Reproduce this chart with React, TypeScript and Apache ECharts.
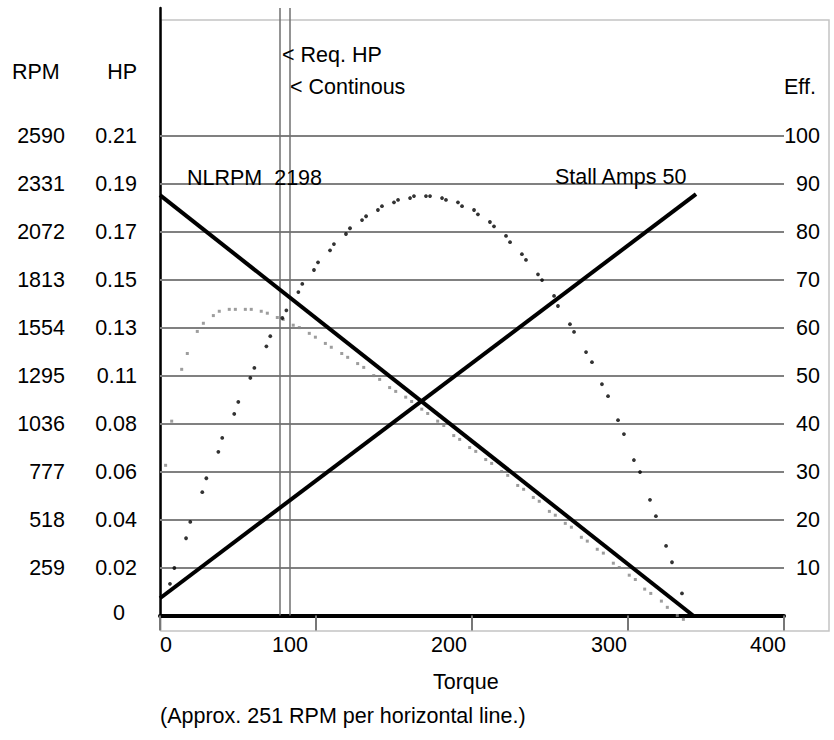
import React, { useEffect, useRef } from 'react';
import * as echarts from 'echarts';

// ---- data ----
const torqueTicks = [0, 100, 200, 300, 400];
const gridLevels = [10, 20, 30, 40, 50, 60, 70, 80, 90, 100];
const rpmLabels = ['259', '518', '777', '1036', '1295', '1554', '1813', '2072', '2331', '2590'];
const hpLabels = ['0.02', '0.04', '0.06', '0.08', '0.11', '0.13', '0.15', '0.17', '0.19', '0.21'];
const effLabels = ['10', '20', '30', '40', '50', '60', '70', '80', '90', '100'];

// vertical markers (torque): Req. HP, Continous
const markerTorque = [76.9, 83.3];

// straight lines (torque, scale units 0-100)
const rpmLine = [[0, 87.6], [341.7, 0]];
const ampsLine = [[0, 3.6], [343.6, 87.8]];

// efficiency curve (black dots)
const effTorque = [6.4, 9.2, 16.7, 19.4, 27.1, 29.7, 37.4, 39.9, 47.6, 50.2, 57.9, 60.5, 68.2, 70.7, 78.4, 81.0, 88.7, 91.2, 98.7, 101.3, 109.0, 111.5, 119.2, 121.8, 129.5, 132.1, 139.7, 142.3, 150.0, 152.6, 160.3, 162.8, 170.5, 173.1, 180.8, 183.3, 191.0, 193.6, 201.3, 203.8, 211.5, 214.1, 221.8, 224.4, 232.0, 234.6, 242.3, 244.9, 252.6, 255.1, 262.8, 265.4, 273.1, 276.9, 283.3, 287.2, 293.6, 297.4, 303.8, 307.7, 314.1, 317.9, 324.4, 328.2, 334.6];
const effValues = [6.6, 9.9, 16.1, 19.5, 25.7, 28.6, 34.1, 37.0, 42.0, 44.5, 49.5, 51.6, 56.1, 58.2, 62.0, 63.6, 67.4, 69.1, 72.0, 73.6, 76.1, 77.4, 79.5, 80.7, 82.4, 83.2, 84.5, 85.3, 86.1, 86.6, 87.0, 87.4, 87.4, 87.4, 87.0, 86.6, 86.1, 85.3, 84.5, 83.6, 82.0, 81.1, 79.1, 77.8, 75.3, 74.1, 71.1, 69.9, 66.6, 64.5, 60.7, 59.1, 54.9, 52.8, 48.2, 45.7, 40.7, 37.8, 32.4, 29.9, 24.1, 20.7, 14.5, 11.1, 4.6];

// horsepower curve (gray squares)
const hpTorque = [3.6, 7.5, 13.9, 17.5, 23.9, 27.8, 34.2, 38.0, 44.4, 48.3, 54.7, 58.5, 64.9, 68.8, 75.2, 79.0, 85.4, 89.3, 95.7, 99.6, 106.0, 109.8, 116.5, 120.3, 126.7, 130.6, 137.0, 140.8, 147.2, 151.1, 157.5, 161.3, 167.8, 171.6, 178.0, 181.9, 188.3, 192.1, 198.5, 202.4, 208.8, 212.6, 219.0, 222.9, 229.3, 233.1, 239.3, 243.1, 249.6, 253.4, 259.8, 263.7, 270.1, 273.9, 280.3, 284.2, 290.6, 294.4, 300.8, 304.7, 310.7, 314.6, 321.4, 325.2, 331.6, 335.5];
const hpValues = [31.3, 40.5, 51.3, 54.6, 59.2, 60.9, 62.5, 63.4, 63.8, 63.8, 63.8, 63.8, 63.4, 63.0, 62.1, 61.7, 60.5, 60.0, 58.8, 58.0, 56.7, 55.9, 54.6, 53.8, 52.5, 51.7, 50.0, 49.2, 47.5, 46.7, 45.5, 44.6, 43.0, 42.1, 40.5, 39.6, 37.5, 36.7, 35.0, 34.2, 32.5, 31.7, 30.0, 29.2, 27.1, 26.3, 24.6, 23.8, 21.7, 20.9, 19.2, 18.4, 16.3, 15.5, 13.8, 13.0, 10.9, 10.0, 8.4, 7.5, 5.5, 4.6, 3.0, 1.7, 0.0, -0.8];

const FONT = '"Liberation Sans", Arial, Helvetica, sans-serif';
const FS = 21.5;

function levelLabel(labels: string[], v: number) {
  const i = gridLevels.indexOf(Math.round(v * 1000) / 1000);
  return i >= 0 ? labels[i] : '';
}

export default function App() {
  const ref = useRef<HTMLDivElement>(null);

  useEffect(() => {
    const chart = echarts.init(ref.current!, null, { renderer: 'svg' });
    const textStyle = (text: string, x: number, y: number, align = 'left') => ({
      type: 'text',
      x,
      y,
      silent: true,
      z: 10,
      style: { text, fill: '#000', fontSize: FS, fontFamily: FONT, align, verticalAlign: 'middle' },
    });

    const option: any = {
      animation: false,
      backgroundColor: '#ffffff',
      textStyle: { fontFamily: FONT },
      grid: { left: 160, top: 8, width: 624, height: 607.5, outerBoundsMode: 'none', containLabel: false },
      xAxis: {
        type: 'value',
        min: torqueTicks[0],
        max: torqueTicks[torqueTicks.length - 1],
        interval: 100,
        axisLine: { show: true, lineStyle: { color: '#000', width: 4 } },
        axisTick: { show: true, length: 15, lineStyle: { color: '#777', width: 2 } },
        splitLine: { show: false },
        axisLabel: {
          margin: 18,
          color: '#000',
          fontSize: FS,
          fontFamily: FONT,
          formatter: (v: number) => `{t${v}|${v}}`,
          rich: {
            t0: { fontSize: FS, fontFamily: FONT, color: '#000', padding: [0, 0, 0, 12] },
            t100: { fontSize: FS, fontFamily: FONT, color: '#000', padding: [0, 52, 0, 0] },
            t200: { fontSize: FS, fontFamily: FONT, color: '#000', padding: [0, 46, 0, 0] },
            t300: { fontSize: FS, fontFamily: FONT, color: '#000', padding: [0, 38, 0, 0] },
            t400: { fontSize: FS, fontFamily: FONT, color: '#000', padding: [0, 32, 0, 0] },
          },
        },
      },
      yAxis: [
        {
          type: 'value',
          position: 'left',
          min: 0,
          max: 126.6,
          interval: 10,
          axisLine: { show: true, lineStyle: { color: '#000', width: 2.5 } },
          axisTick: { show: false },
          splitLine: { show: false },
          axisLabel: {
            margin: 95,
            color: '#000',
            fontSize: FS,
            fontFamily: FONT,
            formatter: (v: number) => levelLabel(rpmLabels, v),
          },
        },
        {
          type: 'value',
          position: 'left',
          min: 0,
          max: 126.6,
          interval: 10,
          axisLine: { show: false },
          axisTick: { show: false },
          splitLine: { show: false },
          axisLabel: {
            margin: 23,
            color: '#000',
            fontSize: FS,
            fontFamily: FONT,
            formatter: (v: number) => (v === 0 ? '{z|0}' : levelLabel(hpLabels, v)),
            rich: { z: { fontSize: FS, fontFamily: FONT, color: '#000', padding: [0, 12, 5, 0] } },
          },
        },
        {
          type: 'value',
          position: 'right',
          min: 0,
          max: 126.6,
          interval: 10,
          axisLine: { show: false },
          axisTick: { show: false },
          splitLine: { show: false },
          axisLabel: {
            margin: 36,
            align: 'right',
            color: '#000',
            fontSize: FS,
            fontFamily: FONT,
            formatter: (v: number) => levelLabel(effLabels, v),
          },
        },
      ],
      series: [
        {
          name: 'HP',
          type: 'scatter',
          clip: false,
          z: 2,
          symbol: 'rect',
          symbolSize: 3,
          itemStyle: { color: '#858585' },
          data: hpTorque.map((t, i) => [t, hpValues[i]]),
          markLine: {
            silent: true,
            z: 1,
            symbol: ['none', 'none'],
            label: { show: false },
            animation: false,
            data: [
              ...gridLevels.map((v) => ({ yAxis: v, lineStyle: { color: '#808080', width: 2, type: 'solid' } })),
              ...markerTorque.map((v) => ({ xAxis: v, lineStyle: { color: '#707070', width: 1.5, type: 'solid' } })),
            ],
          },
        },
        {
          name: 'Eff',
          type: 'scatter',
          clip: false,
          z: 2,
          symbol: 'circle',
          symbolSize: 3.8,
          itemStyle: { color: '#000' },
          data: effTorque.map((t, i) => [t, effValues[i]]),
        },
        {
          name: 'RPM',
          type: 'line',
          z: 3,
          symbol: 'none',
          lineStyle: { color: '#000', width: 4 },
          data: rpmLine,
        },
        {
          name: 'Amps',
          type: 'line',
          z: 3,
          symbol: 'none',
          lineStyle: { color: '#000', width: 4 },
          data: ampsLine,
        },
      ],
      graphic: [
        {
          type: 'rect',
          z: -1,
          silent: true,
          shape: { x: 161, y: 20, width: 668, height: 611 },
          style: { fill: 'none', stroke: '#c4c4c4', lineWidth: 1.5 },
        },
        textStyle('RPM', 12, 72),
        textStyle('HP', 137, 72, 'right'),
        textStyle('Eff.', 784, 87),
        textStyle('< Req. HP', 282, 55),
        textStyle('< Continous', 290, 87),
        textStyle('NLRPM  2198', 187, 178),
        textStyle('Stall Amps 50', 555, 177),
        textStyle('Torque', 433, 682),
        textStyle('(Approx. 251 RPM per horizontal line.)', 160, 716),
      ],
    };
    chart.setOption(option);
    return () => chart.dispose();
  }, []);

  return (
    <div
      ref={ref}
      style={{ position: 'absolute', left: 0, top: 0, width: 834, height: 740, background: '#fff' }}
    />
  );
}
